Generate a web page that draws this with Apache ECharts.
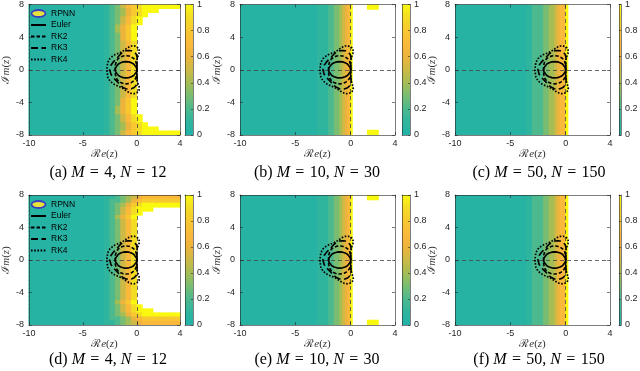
<!DOCTYPE html>
<html>
<head>
<meta charset="utf-8">
<script src="https://cdn.jsdelivr.net/npm/echarts@6.0.0/dist/echarts.min.js"></script>
<style>
html,body{margin:0;padding:0;background:#ffffff;}
#chart{width:640px;height:371px;}
</style>
</head>
<body>
<div id="chart"></div>
<script>
// ---------------- data ----------------
const X_TICKS = [-10, -5, 0, 4];
const Y_TICKS = [-8, -4, 0, 4, 8];
const X_RANGE = [-10, 4];
const Y_RANGE = [-8, 8];
const CB_RANGE = [0, 1];
const PANEL_LETTERS = ['a', 'b', 'c', 'd', 'e', 'f'];
const PANEL_M = [4, 10, 50, 4, 10, 50];
const PANEL_N = [12, 30, 150, 12, 30, 150];
const LEGEND_NAMES = ['RPNN', 'Euler', 'RK2', 'RK3', 'RK4'];

// cell level codes ('-' = value above 1, drawn white)
const LEVELS = {'0':0.04,'1':0.1,'2':0.2,'3':0.3,'4':0.4,'5':0.5,'6':0.6,'7':0.7,'8':0.8,'9':0.9,'Y':1.0};

// panels a / d: column edges and row edges (top to bottom)
const XA = [-10, -3, -2.5, -2, -1.5, -1, -0.5, 0, 0.5, 1, 1.5, 2, 2.5, 3, 3.5, 4];
const YA = [8, 7.5, 7, 6.5, 6, 5.5, 5, 4.5, 4, 3.5, 3, 2.5, 2, 1.5, 1, 0.5, 0,
            -0.5, -1, -1.5, -2, -2.5, -3, -3.5, -4, -4.5, -5, -5.5, -6, -6.5, -7, -7.5, -8];
const FIELD_A = [
  '01235789YYYYYYY',
  '01234689YYY----',
  '01234689Y------',
  '0123579Y-------',
  '0123579Y-------',
  '012468Y--------',
  '012468Y--------',
  '012368Y--------',
  '012368Y--------',
  '0123579--------',
  '0123579--------',
  '0123579--------',
  '0123579--------',
  '0123579--------',
  '0123579--------',
  '0123579--------',
  '0123579--------',
  '0123579--------',
  '0123579--------',
  '0123579--------',
  '0123579--------',
  '0123579--------',
  '0123579--------',
  '012368Y--------',
  '012368Y--------',
  '012468Y--------',
  '012468Y--------',
  '0123579Y-------',
  '0123579Y-------',
  '01234689Y------',
  '01234689YYY----',
  '01235789YYYYYYY'
];
const FIELD_D = [
  '011234567777777',
  '012234678888888',
  '01234689YYYYYYY',
  '0123579YYY-----',
  '0123579Y-------',
  '012468Y--------',
  '0123579--------',
  '0123579--------',
  '0123579--------',
  '0123579--------',
  '0123579--------',
  '0123579--------',
  '0123579--------',
  '0123579--------',
  '0123579--------',
  '0123579--------',
  '0123579--------',
  '0123579--------',
  '0123579--------',
  '0123579--------',
  '0123579--------',
  '0123579--------',
  '0123579--------',
  '0123579--------',
  '0123579--------',
  '0123579--------',
  '012468Y--------',
  '0123579Y-------',
  '0123579YYY-----',
  '01234689YYYYYYY',
  '012234678888888',
  '011234567777777'
];
// panels b / e
const XB = [-10, -3, -2.5, -2, -1.5, -1, -0.75, -0.5, -0.25, 0, 0.15, 1.5, 2.5, 4];
const YB = [8, 7.4, -7.4, -8];
const FIELD_B = ['011234567Y-Y-', '011234567Y---', '011234567Y-Y-'];
const FIELD_E = ['011234567Y-Y-', '011234567Y---', '011234567Y-Y-'];
// panels c / f
const XC = [-10, -4, -3.5, -3, -2.5, -2, -1.5, -1, -0.75, -0.5, -0.25, 0, 0.2, 4];
const YC = [8, -8];
const FIELD_C = ['00122345677Y-'];
const FIELD_F = ['00122345677Y-'];

// stability region boundaries (Re z, Im z)
const EULER = [[0,0],[-0.034,0.259],[-0.134,0.5],[-0.293,0.707],[-0.5,0.866],[-0.741,0.966],[-1,1],
  [-1.259,0.966],[-1.5,0.866],[-1.707,0.707],[-1.866,0.5],[-1.966,0.259],[-2,0],[-1.966,-0.259],
  [-1.866,-0.5],[-1.707,-0.707],[-1.5,-0.866],[-1.259,-0.966],[-1,-1],[-0.741,-0.966],[-0.5,-0.866],
  [-0.293,-0.707],[-0.134,-0.5],[-0.034,-0.259],[0,0]];
const RK2 = [[0,0],[-0.01,0.55],[-0.1,1.03],[-0.25,1.327],[-0.5,1.575],[-0.75,1.695],[-1,1.732],
  [-1.25,1.695],[-1.5,1.575],[-1.75,1.327],[-1.9,1.03],[-1.99,0.55],[-2,0],[-1.99,-0.55],[-1.9,-1.03],
  [-1.75,-1.327],[-1.5,-1.575],[-1.25,-1.695],[-1,-1.732],[-0.75,-1.695],[-0.5,-1.575],[-0.25,-1.327],
  [-0.1,-1.03],[-0.01,-0.55],[0,0]];
const RK3 = [[0,0],[0.005,0.6],[0.02,1.0],[0.033,1.3],[0.025,1.55],[0,1.732],[-0.05,1.89],[-0.1,1.99],
  [-0.25,2.18],[-0.5,2.33],[-0.75,2.37],[-1,2.33],[-1.25,2.19],[-1.5,1.94],[-1.75,1.57],[-2,1.21],
  [-2.2,0.93],[-2.4,0.56],[-2.51,0],[-2.4,-0.56],[-2.2,-0.93],[-2,-1.21],[-1.75,-1.57],[-1.5,-1.94],
  [-1.25,-2.19],[-1,-2.33],[-0.75,-2.37],[-0.5,-2.33],[-0.25,-2.18],[-0.1,-1.99],[-0.05,-1.89],
  [0,-1.732],[0.025,-1.55],[0.033,-1.3],[0.02,-1.0],[0.005,-0.6],[0,0]];
const RK4 = [[0,0],[0.005,0.9],[0.02,1.2],[0.05,1.45],[0.1,1.67],[0.2,2.0],[0.23,2.27],[0.2,2.54],
  [0.1,2.73],[0,2.83],[-0.25,2.93],[-0.5,2.91],[-0.75,2.77],[-1,2.56],[-1.25,2.32],[-1.5,2.14],
  [-1.75,2.0],[-2,1.86],[-2.25,1.66],[-2.5,1.36],[-2.7,0.89],[-2.785,0],[-2.7,-0.89],[-2.5,-1.36],
  [-2.25,-1.66],[-2,-1.86],[-1.75,-2.0],[-1.5,-2.14],[-1.25,-2.32],[-1,-2.56],[-0.75,-2.77],
  [-0.5,-2.91],[-0.25,-2.93],[0,-2.83],[0.1,-2.73],[0.2,-2.54],[0.23,-2.27],[0.2,-2.0],[0.1,-1.67],
  [0.05,-1.45],[0.02,-1.2],[0.005,-0.9],[0,0]];
const ZERO_LINES = [0];

// ---------------- style / layout ----------------
const COLORMAP = ['#21b2a8','#2fb59e','#4cb98e','#78bd72','#a5bd55','#cdb946','#edb43d','#fab93a','#f8c831','#f3dc24','#f9f80f'];
const SANS = "'Liberation Sans', Arial, Helvetica, sans-serif";
const SERIF = "'Liberation Serif', 'DejaVu Serif', 'Times New Roman', serif";
const AX = '#262626';

const FIELDS = [
  {xe: XA, ye: YA, rows: FIELD_A}, {xe: XB, ye: YB, rows: FIELD_B}, {xe: XC, ye: YC, rows: FIELD_C},
  {xe: XA, ye: YA, rows: FIELD_D}, {xe: XB, ye: YB, rows: FIELD_E}, {xe: XC, ye: YC, rows: FIELD_F}
];
const LAYOUT = [
  {left: 24, top: 4, width: 156, height: 131, cb: 185, capX: 108, capY: 173, legend: true},
  {left: 240, top: 4, width: 155, height: 131, cb: 402, capX: 317, capY: 173},
  {left: 455, top: 4, width: 155, height: 131, cb: 619, capX: 539, capY: 173},
  {left: 24, top: 195, width: 156, height: 130, cb: 185, capX: 108, capY: 360, legend: true},
  {left: 240, top: 195, width: 155, height: 130, cb: 402, capX: 317, capY: 360},
  {left: 455, top: 195, width: 155, height: 130, cb: 619, capX: 539, capY: 360}
];
const CURVES = [
  {name: 'Euler', data: EULER, type: 'solid', width: 1.6},
  {name: 'RK2', data: RK2, type: [3.5, 2], width: 1.6},
  {name: 'RK3', data: RK3, type: [7, 3.5], width: 1.6},
  {name: 'RK4', data: RK4, type: [1.6, 1.6], width: 1.7}
];

function cells(xe, ye, rows) {
  const out = [];
  for (let r = 0; r < rows.length; r++) {
    const row = rows[r];
    for (let c = 0; c < row.length; c++) {
      const ch = row[c];
      if (ch === '-') continue;
      out.push([xe[c], xe[c + 1], ye[r + 1], ye[r], LEVELS[ch]]);
    }
  }
  return out;
}
function renderCell(params, api) {
  const p0 = api.coord([api.value(0), api.value(3)]);
  const p1 = api.coord([api.value(1), api.value(2)]);
  const col = api.visual('color');
  return {type: 'rect',
          shape: {x: p0[0] - 0.4, y: p0[1] - 0.4, width: p1[0] - p0[0] + 0.8, height: p1[1] - p0[1] + 0.8},
          style: {fill: col}};
}
const GRADIENT = {type: 'linear', x: 0, y: 1, x2: 0, y2: 0,
  colorStops: COLORMAP.map((c, i) => ({offset: i / (COLORMAP.length - 1), color: c}))};
function renderBar(params, api) {
  const p0 = api.coord([api.value(0), api.value(3)]);
  const p1 = api.coord([api.value(1), api.value(2)]);
  return {type: 'rect', shape: {x: p0[0], y: p0[1], width: p1[0] - p0[0], height: p1[1] - p0[1]},
          style: {fill: GRADIENT}};
}

const nameRich = {
  s: {fontFamily: SERIF, fontSize: 11, color: '#333'},
  i: {fontFamily: SERIF, fontSize: 11, fontStyle: 'italic', color: '#333'},
  n: {fontFamily: SERIF, fontSize: 11, color: '#333'}
};
function lineAx(color) { return {show: true, onZero: false, lineStyle: {color: color, width: 0.6}}; }

const grid = [], xAxis = [], yAxis = [], series = [], legend = [], graphic = [];
const fieldSeries = [];
const EQ = '\u2004=\u2004';

LAYOUT.forEach((L, p) => {
  const gi = grid.length;
  grid.push({left: L.left, top: L.top, width: L.width, height: L.height, show: false});
  grid.push({left: L.cb, top: L.top, width: 8, height: L.height, show: false});
  const xi = xAxis.length;
  xAxis.push({gridIndex: gi, type: 'value', min: X_RANGE[0], max: X_RANGE[1], position: 'bottom', z: 10,
    axisLine: lineAx(AX),
    axisTick: {show: true, inside: true, length: 3, customValues: X_TICKS, lineStyle: {color: AX, width: 0.6}},
    axisLabel: {show: true, customValues: X_TICKS, fontSize: 9, color: AX, margin: 4, fontFamily: SANS},
    splitLine: {show: false},
    name: '{s|ℛ}{i|e}{n|(}{i|z}{n|)}', nameLocation: 'middle', nameGap: 13,
    nameTextStyle: {rich: nameRich}});
  xAxis.push({gridIndex: gi, type: 'value', min: X_RANGE[0], max: X_RANGE[1], position: 'top', z: 10,
    axisLine: lineAx(AX),
    axisTick: {show: true, inside: true, length: 3, customValues: X_TICKS, lineStyle: {color: AX, width: 0.6}},
    axisLabel: {show: false}, splitLine: {show: false}});
  xAxis.push({gridIndex: gi + 1, type: 'value', min: 0, max: 1, position: 'bottom', z: 10,
    axisLine: lineAx(AX), axisTick: {show: false}, axisLabel: {show: false}, splitLine: {show: false}});
  xAxis.push({gridIndex: gi + 1, type: 'value', min: 0, max: 1, position: 'top', z: 10,
    axisLine: lineAx(AX), axisTick: {show: false}, axisLabel: {show: false}, splitLine: {show: false}});
  const yi = yAxis.length;
  yAxis.push({gridIndex: gi, type: 'value', min: Y_RANGE[0], max: Y_RANGE[1], position: 'left', z: 10,
    axisLine: lineAx(AX),
    axisTick: {show: true, inside: true, length: 3, customValues: Y_TICKS, lineStyle: {color: AX, width: 0.6}},
    axisLabel: {show: true, customValues: Y_TICKS, fontSize: 9, color: AX, margin: 5, fontFamily: SANS},
    splitLine: {show: false},
    name: '{s|ℐ}{i|m}{n|(}{i|z}{n|)}', nameLocation: 'middle', nameGap: 13,
    nameTextStyle: {rich: nameRich}});
  yAxis.push({gridIndex: gi, type: 'value', min: Y_RANGE[0], max: Y_RANGE[1], position: 'right', z: 10,
    axisLine: lineAx(AX),
    axisTick: {show: true, inside: true, length: 3, customValues: Y_TICKS, lineStyle: {color: AX, width: 0.6}},
    axisLabel: {show: false}, splitLine: {show: false}});
  yAxis.push({gridIndex: gi + 1, type: 'value', min: CB_RANGE[0], max: CB_RANGE[1], interval: 0.2, position: 'right', z: 10,
    axisLine: lineAx(AX),
    axisTick: {show: true, inside: true, length: 2, lineStyle: {color: AX, width: 0.6}},
    axisLabel: {show: true, fontSize: 9, color: AX, margin: 4, fontFamily: SANS},
    splitLine: {show: false}});
  yAxis.push({gridIndex: gi + 1, type: 'value', min: CB_RANGE[0], max: CB_RANGE[1], position: 'left', z: 10,
    axisLine: lineAx(AX), axisTick: {show: false}, axisLabel: {show: false}, splitLine: {show: false}});

  const F = FIELDS[p];
  fieldSeries.push(series.length);
  series.push({type: 'custom', name: 'RPNN', xAxisIndex: xi, yAxisIndex: yi, renderItem: renderCell,
    data: cells(F.xe, F.ye, F.rows), encode: {x: [0, 1], y: [2, 3]}, dimensions: ['x0','x1','y0','y1','v'],
    clip: true, silent: true, z: 1});
  series.push({type: 'custom', xAxisIndex: xi + 2, yAxisIndex: yi + 2, renderItem: renderBar,
    data: [[0, 1, CB_RANGE[0], CB_RANGE[1]]], encode: {x: [0, 1], y: [2, 3]}, silent: true, z: 1});

  CURVES.forEach((C, k) => {
    const s = {type: 'line', name: C.name, xAxisIndex: xi, yAxisIndex: yi, data: C.data,
      symbol: 'none', smooth: false, silent: true, z: 5,
      itemStyle: {color: 'rgba(0,0,0,0)'},
      lineStyle: {color: '#000', width: C.width, type: C.type}};
    if (k === 0) {
      s.markLine = {silent: true, symbol: 'none', label: {show: false},
        lineStyle: {color: '#444', type: [4, 3], width: 0.8},
        data: [{xAxis: ZERO_LINES[0]}, {yAxis: ZERO_LINES[0]}]};
    }
    series.push(s);
  });

  if (L.legend) {
    legend.push({show: true, orient: 'vertical', left: L.left + 6, top: L.top + 5, padding: 0,
      itemWidth: 15, itemHeight: 7, itemGap: 2.5, selectedMode: false,
      textStyle: {fontSize: 8.5, fontFamily: SANS, color: '#000'},
      data: LEGEND_NAMES.map((n, i) => i === 0
        ? {name: n, icon: 'path://M0,5 A10,5 0 1,0 20,5 A10,5 0 1,0 0,5 Z',
           itemStyle: {color: '#e6e43a', borderColor: '#3b3fc0', borderWidth: 1.8}}
        : {name: n})});
  }

  graphic.push({type: 'text', x: L.capX, y: L.capY, silent: true,
    style: {text: '{n|(' + PANEL_LETTERS[p] + ') }{i|M}{n|' + EQ + PANEL_M[p] + ', }{i|N}{n|' + EQ + PANEL_N[p] + '}',
      align: 'center', verticalAlign: 'middle', textAlign: 'center', textVerticalAlign: 'middle',
      rich: {n: {fontFamily: SERIF, fontSize: 16, fill: '#000'},
             i: {fontFamily: SERIF, fontSize: 16, fontStyle: 'italic', fill: '#000'}}}});
});

const option = {
  animation: false,
  backgroundColor: '#ffffff',
  grid: grid, xAxis: xAxis, yAxis: yAxis, series: series, legend: legend, graphic: graphic,
  visualMap: [{type: 'continuous', show: false, min: 0, max: 1, dimension: 4,
    seriesIndex: fieldSeries, inRange: {color: COLORMAP}}]
};
const chart = echarts.init(document.getElementById('chart'));
chart.setOption(option);
</script>
</body>
</html>
